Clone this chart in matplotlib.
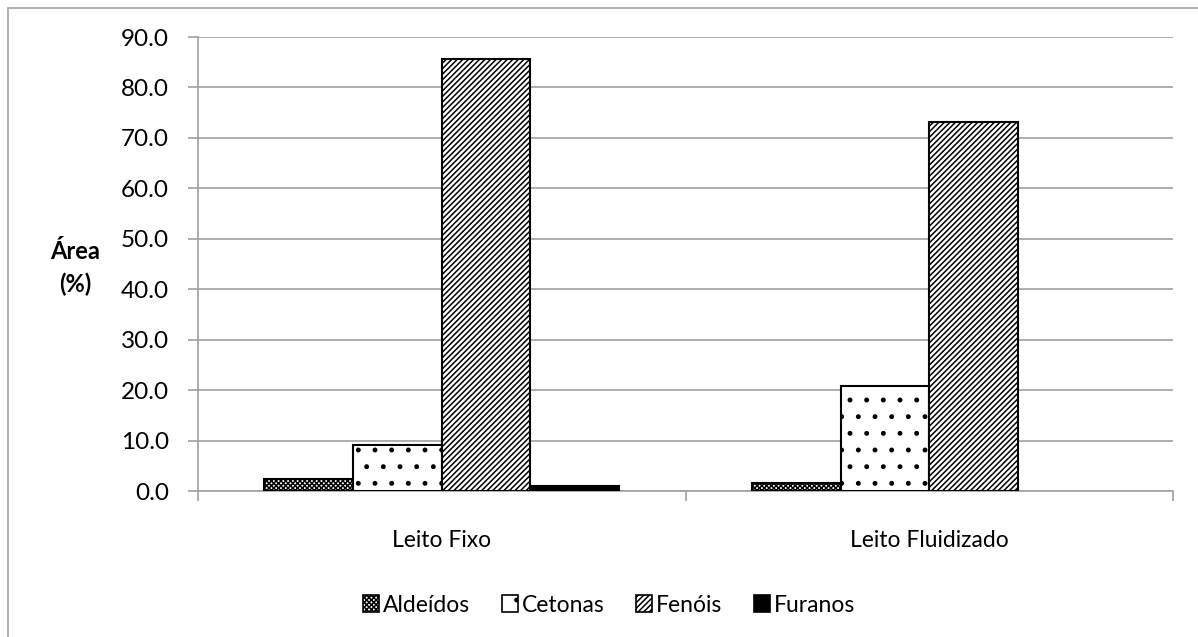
import matplotlib
matplotlib.use("Agg")
import matplotlib.pyplot as plt
import numpy as np
from matplotlib.patches import Rectangle, Patch

plt.rcParams['font.family'] = ['Lato', 'DejaVu Sans']
plt.rcParams['hatch.linewidth'] = 1.1

categories = ["Leito Fixo", "Leito Fluidizado"]
series = ["Aldeídos", "Cetonas", "Fenóis", "Furanos"]
aldeidos = [2.4, 1.6]
cetonas = [9.1, 20.9]
fenois = [85.6, 73.2]
furanos = [1.0, 0.0]
yticks = [0, 10, 20, 30, 40, 50, 60, 70, 80, 90]

values = [aldeidos, cetonas, fenois, furanos]
hatches = ['xxxxxxx', '.', '//////', None]
faces = ['white', 'white', 'white', 'black']

fig = plt.figure(figsize=(11.98, 6.37), dpi=100)
# outer chart border
fig.patches.append(Rectangle((8/1198, -0.01), 1.2, 1 - 8/637 + 0.01, transform=fig.transFigure,
                             fill=False, edgecolor='#a6a6a6', linewidth=1.2))
ax = fig.add_axes([198/1198, 1 - 491/637, (1173-198)/1198, (491-37)/637])

n = len(series)
w = 1 / (n + 1.5)
x = np.arange(len(categories))
handles = []
for i, (name, vals) in enumerate(zip(series, values)):
    pos = x - 0.5 + 0.75 * w + i * w + w / 2
    lws = [1.5 if v > 0 else 0 for v in vals]
    ax.bar(pos, vals, width=w, color=faces[i], edgecolor='black', linewidth=lws,
           hatch=hatches[i], zorder=3)
    handles.append(Patch(facecolor=faces[i], edgecolor='black', linewidth=1.2,
                         hatch=hatches[i], label=name))

ax.set_xlim(-0.5, len(categories) - 0.5)
ax.set_ylim(0, 90)
ax.set_yticks(yticks)
ax.set_yticklabels([f"{v:.1f}" for v in yticks], fontsize=17.5)
ax.set_xticks(x)
ax.set_xticklabels(categories, fontsize=16.5)
ax.set_xticks([-0.5, 0.5, 1.5], minor=True)
ax.tick_params(axis='x', which='major', length=0, pad=28)
ax.tick_params(axis='x', which='minor', length=7, color='#a0a0a0', width=1.2)
ax.tick_params(axis='y', length=7, color='#a0a0a0', width=1.2, pad=14)
ax.grid(axis='y', color='#a0a0a0', linewidth=1.2, zorder=0)
for s in ['top', 'right']:
    ax.spines[s].set_visible(False)
for s in ['left', 'bottom']:
    ax.spines[s].set_color('#a0a0a0')
    ax.spines[s].set_linewidth(1.2)

fig.text(75/1198, 1 - 268/637, "Área\n(%)", ha='center', va='center', fontsize=17,
         fontweight='bold', linespacing=1.45)

leg = fig.legend(handles=handles, loc='center', bbox_to_anchor=(609/1198, 1 - 605/637), ncol=4,
                 frameon=False, fontsize=16.5, handlelength=0.7, handleheight=0.7,
                 handletextpad=0.15, columnspacing=1.4)

fig.savefig("out.png", dpi=100)
